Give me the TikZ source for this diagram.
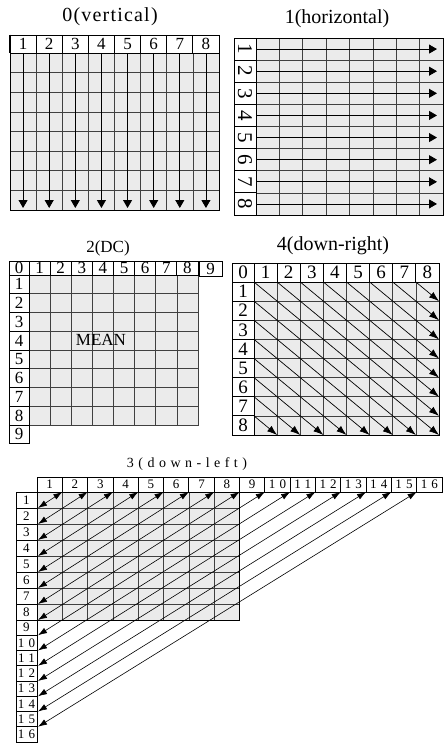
\documentclass[tikz,border=0pt]{standalone}
\usepackage{fontspec}
\setmainfont{Liberation Serif}
\newfontfamily\spacedfont[LetterSpace=6]{Liberation Serif}
\newfontfamily\widefont[LetterSpace=32]{Liberation Serif}
\usetikzlibrary{arrows.meta,calc}
\tikzset{
  cell/.style={draw,fill=white,line width=0.8pt,inner sep=0pt},
  graybg/.style={fill=black!8},
  gridln/.style={draw=black!75,line width=0.7pt},
  frame/.style={draw=black,line width=0.8pt},
  straight/.style={-{Triangle[length=8pt,width=9pt]},line width=0.8pt},
  diag/.style={-{Latex[length=10pt,width=7pt]},line width=0.7pt},
  twoway/.style={{Latex[length=9pt,width=6pt]}-{Latex[length=9pt,width=6pt]},line width=0.6pt},
  paneltitle/.style={inner sep=0pt,font=\fontsize{20}{22}\selectfont},
}

\begin{document}
\begin{tikzpicture}[x=1pt,y=-1pt]
  \useasboundingbox (0,0) rectangle (444,744);

  % 0 (vertical)
  \node[paneltitle] (t0) at (110,17) {\spacedfont 0(vertical)};
  \fill[graybg] (10,53) rectangle (219,210);
  \foreach \i in {1,...,7} \draw[gridln] ({10+\i*26.125},53) -- ({10+\i*26.125},210);
  \foreach \j in {1,...,7} \draw[gridln] (10,{53+\j*19.625}) -- (219,{53+\j*19.625});
  \draw[frame] (10,53) rectangle (219,210);
  \foreach \i in {1,...,8} {
    \node[cell,minimum width=26.125pt,minimum height=18pt,font=\fontsize{17}{17}\selectfont]
      (v\i) at ({10+(\i-0.5)*26.125},44) {\i};
    \coordinate (vt\i) at (v\i.south);
    \coordinate (vb\i) at ({10+(\i-0.5)*26.125},208);
    \draw[straight] (vt\i) -- (vb\i);
  }
  \draw[line width=1.8pt] (v1.north west) -- (v1.south west);

  % 1 (horizontal)
  \node[paneltitle] (t1) at (337,19) {1(horizontal)};
  \fill[graybg] (256,38) rectangle (443,215);
  \foreach \i in {1,...,7} \draw[gridln] ({256+\i*23.375},38) -- ({256+\i*23.375},215);
  \foreach \j in {1,...,7} \draw[gridln] (256,{38+\j*22.125}) -- (443,{38+\j*22.125});
  \draw[frame] (256,38) rectangle (443,215);
  \foreach \j in {1,...,8} {
    \node[cell,minimum width=22pt,minimum height=22.125pt,font=\fontsize{21}{21}\selectfont]
      (h\j) at (245,{38+(\j-0.5)*22.125}) {\rotatebox{-90}{\j}};
    \coordinate (hl\j) at (h\j.east);
    \coordinate (hr\j) at (437,{38+(\j-0.5)*22.125});
    \draw[straight] (hl\j) -- (hr\j);
  }

  % 2 (DC)
  \node[paneltitle,font=\fontsize{17}{19}\selectfont] (t2) at (108,248) {2(DC)};
  \fill[graybg] (29,275) rectangle (198,425);
  \foreach \i in {1,...,7} \draw[gridln] ({29+\i*21.125},275) -- ({29+\i*21.125},425);
  \foreach \j in {1,...,7} \draw[gridln] (29,{275+\j*18.75}) -- (198,{275+\j*18.75});
  \draw[gridln] (29,275) rectangle (198,425);
  \node[cell,minimum width=20pt,minimum height=14pt,font=\fontsize{17}{17}\selectfont] (dc0) at (19,268) {0};
  \foreach \i in {1,...,8}
    \node[cell,minimum width=21.125pt,minimum height=14pt,font=\fontsize{17}{17}\selectfont]
      (dc\i) at ({29+(\i-0.5)*21.125},268) {\i};
  \node[cell,minimum width=23pt,minimum height=15pt,font=\fontsize{17}{17}\selectfont] (dc9) at (210.5,268.5) {9};
  \foreach \j in {1,...,8}
    \node[cell,minimum width=20pt,minimum height=18.75pt,font=\fontsize{17}{17}\selectfont]
      (dr\j) at (19,{275+(\j-0.5)*18.75}) {\j};
  \node[cell,minimum width=20pt,minimum height=18pt,font=\fontsize{17}{17}\selectfont] (dr9) at (19,434) {9};
  \node[font=\fontsize{17}{17}\selectfont] (mean) at (101,340) {MEAN};

  % 4 (down-right)
  \node[paneltitle] (t4) at (333,246) {4(down-right)};
  \fill[graybg] (254,282) rectangle (439,435);
  \foreach \i in {1,...,7} \draw[gridln] ({254+\i*23.125},282) -- ({254+\i*23.125},435);
  \foreach \j in {1,...,7} \draw[gridln] (254,{282+\j*19.125}) -- (439,{282+\j*19.125});
  \draw[frame] (254,282) rectangle (439,435);
  \node[cell,minimum width=22pt,minimum height=19pt,font=\fontsize{19}{19}\selectfont] (rc0) at (243,272.5) {0};
  \foreach \i in {1,...,8}
    \node[cell,minimum width=23.125pt,minimum height=19pt,font=\fontsize{19}{19}\selectfont]
      (rc\i) at ({254+(\i-0.5)*23.125},272.5) {\i};
  \foreach \j in {1,...,8}
    \node[cell,minimum width=22pt,minimum height=19.125pt,font=\fontsize{19}{19}\selectfont]
      (rr\j) at (243,{282+(\j-0.5)*19.125}) {\j};
  \foreach \i in {0,...,8}
    \foreach \j in {0,...,8}
      \coordinate (p\i-\j) at ({254+\i*23.125},{282+\j*19.125});
  \foreach \k in {0,...,7} {
    \pgfmathtruncatemacro\e{8-\k}
    \draw[diag] (p\k-0) -- (p8-\e);
  }
  \foreach \j in {1,...,7} {
    \pgfmathtruncatemacro\e{8-\j}
    \draw[diag] (p0-\j) -- (p\e-8);
  }

  % 3 (down-left)
  \node[inner sep=0pt,font=\widefont\fontsize{14}{16}\selectfont] (t3) at (187,464) {3(down-left)};
  \fill[graybg] (37,492) rectangle (239.5,620);
  \foreach \i in {1,...,7} \draw[gridln] ({37+\i*25.3125},492) -- ({37+\i*25.3125},620);
  \foreach \j in {1,...,7} \draw[gridln] (37,{492+\j*16}) -- (239.5,{492+\j*16});
  \draw[frame] (37,492) rectangle (239.5,620);
  \foreach \i in {1,...,16}
    \node[cell,minimum width=25.3125pt,minimum height=15pt,font=\widefont\fontsize{13}{13}\selectfont]
      (lc\i) at ({37+(\i-0.5)*25.3125},484.5) {\i};
  \foreach \j in {1,...,16} {
    \pgfmathsetmacro\yc{\j<=8 ? 492+(\j-0.5)*16 : 620+(\j-8.5)*15.25}
    \pgfmathsetmacro\hh{\j<=8 ? 16 : 15.25}
    \node[cell,minimum width=21pt,minimum height=\hh pt,font=\widefont\fontsize{13}{13}\selectfont]
      (lr\j) at (26.5,\yc) {\j};
  }
  \foreach \k in {1,...,15} {
    \pgfmathsetmacro\yb{\k<=8 ? 492+16*\k : 620+15.25*(\k-8)}
    \coordinate (lt\k) at ({37+\k*25.3125},492);
    \coordinate (lb\k) at (38,\yb);
    \draw[twoway] (lb\k) -- (lt\k);
  }
\end{tikzpicture}
\end{document}
